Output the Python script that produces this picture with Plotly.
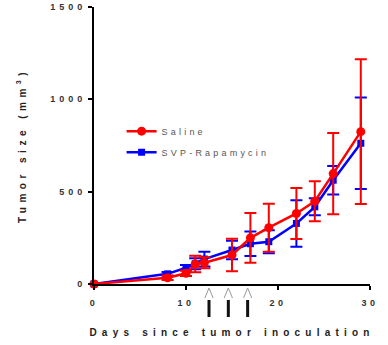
import plotly.graph_objects as go

# ---- data ----
days = [0, 8, 10, 11, 12, 15, 17, 19, 22, 24, 26, 29]
saline = [0, 34, 58, 108, 115, 157, 250, 305, 382, 448, 598, 825]
saline_err = [0, 12, 15, 45, 30, 88, 135, 130, 138, 108, 220, 392]
svp = [0, 55, 88, 110, 135, 184, 218, 229, 328, 418, 562, 762]
svp_err = [0, 10, 15, 30, 40, 50, 66, 62, 126, 46, 77, 248]
treatment_days = [12.5, 14.6, 16.7]
x_ticks = [0, 10, 20, 30]
y_ticks = [0, 500, 1000, 1500]

FONT = "Liberation Sans, Arial, sans-serif"


def spaced(s, ls=3.5):
    return f'<span style="letter-spacing:{ls}px">{s}</span>'


fig = go.Figure()

fig.add_trace(go.Scatter(
    x=days, y=svp, name=spaced("SVP-Rapamycin", 3.2),
    mode="lines+markers",
    line=dict(color="#0000ff", width=2.5),
    marker=dict(symbol="square", size=7, color="#0000ff"),
    error_y=dict(type="data", array=svp_err, color="#0000ff", thickness=2, width=6),
    cliponaxis=False, legendrank=2, legendgroup="b",
))
fig.add_trace(go.Scatter(
    x=days, y=saline, name=spaced("Saline", 3.2),
    mode="lines+markers",
    line=dict(color="#ff0000", width=2.5),
    marker=dict(symbol="circle", size=9, color="#ff0000"),
    error_y=dict(type="data", array=saline_err, color="#ff0000", thickness=2, width=6),
    cliponaxis=False, legendrank=1, legendgroup="a",
))

# treatment arrows below the x axis
plot_h = 277.0
def py(pix):
    return (284 - pix) / plot_h

shapes = []
for d in treatment_days:
    shapes.append(dict(type="path", xref="x", yref="paper",
                       path=f"M {d-0.45},{py(298)} L {d},{py(288)} L {d+0.45},{py(298)}",
                       line=dict(color="#999999", width=1)))
    shapes.append(dict(type="line", xref="x", yref="paper",
                       x0=d, x1=d, y0=py(300), y1=py(317),
                       line=dict(color="#111111", width=3)))

fig.update_layout(
    width=388, height=345,
    margin=dict(l=94, r=18, t=7, b=61, autoexpand=False),
    paper_bgcolor="white", plot_bgcolor="white",
    font=dict(family=FONT, size=9, color="#333333"),
    showlegend=True,
    legend=dict(x=0.1, y=0.604, xanchor="left", yanchor="top",
                bgcolor="rgba(0,0,0,0)", font=dict(size=9, color="#555555"),
                tracegroupgap=2, itemwidth=30),
    shapes=shapes,
    xaxis=dict(range=[0, 30], tickvals=x_ticks,
               ticktext=[f"<b>{spaced(str(v), 3.5)}</b>" for v in x_ticks],
               showline=True, linecolor="black", linewidth=2,
               ticks="outside", ticklen=4, tickwidth=2, tickcolor="black",
               showgrid=False, zeroline=False, automargin=False,
               ticklabelstandoff=5,
               tickfont=dict(size=9, color="#333333"),
               title=dict(text=f"<b>{spaced('Days since tumor inoculation', 5.2)}</b>",
                          font=dict(size=10, color="#222222"), standoff=22)),
    yaxis=dict(range=[0, 1500], tickvals=y_ticks,
               ticktext=[f"<b>{spaced(str(v), 4)}</b>" for v in y_ticks],
               showline=True, linecolor="black", linewidth=2,
               ticks="outside", ticklen=4, tickwidth=2, tickcolor="black",
               showgrid=False, zeroline=False, automargin=False,
               tickfont=dict(size=9, color="#333333"),
               title=dict(text=f"<b>{spaced('Tumor size (mm<sup>3</sup>)', 4.5)}</b>",
                          font=dict(size=10, color="#222222"), standoff=22)),
)

fig.write_html("out.html")
